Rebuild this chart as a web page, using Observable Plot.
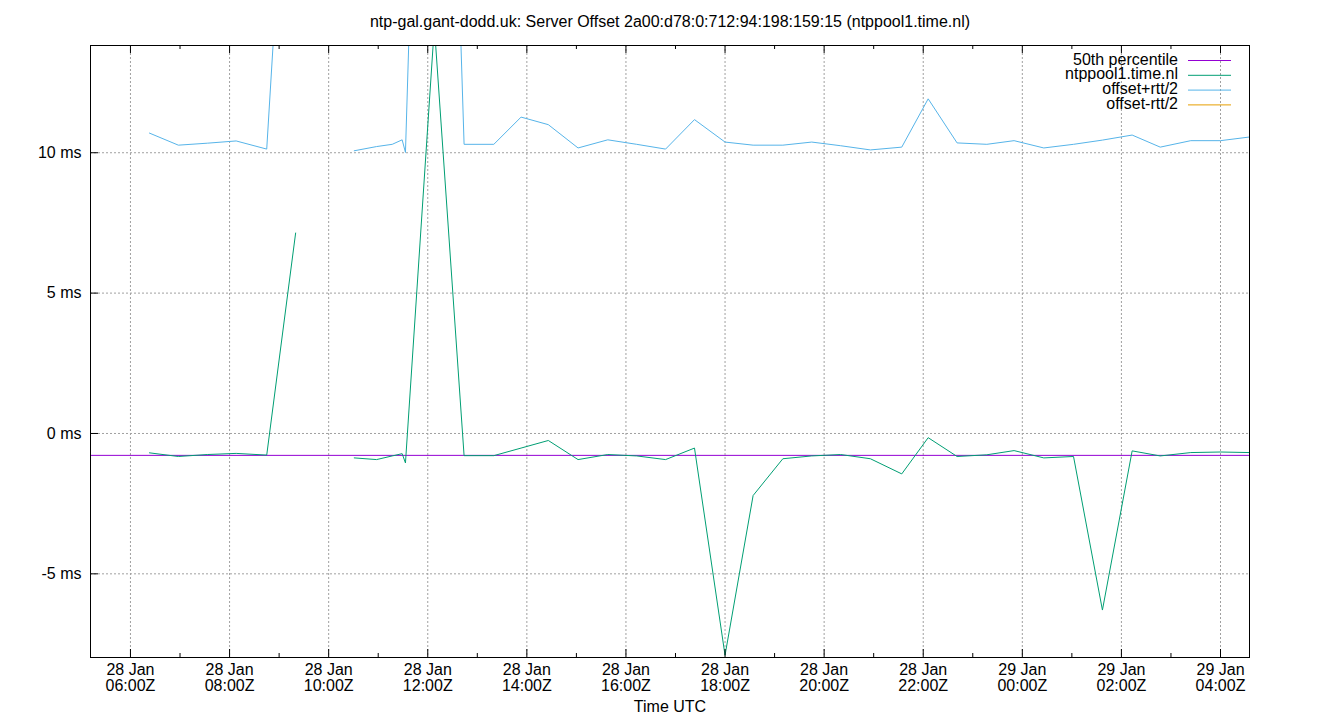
<!DOCTYPE html>
<html><head><meta charset="utf-8">
<script src="https://cdn.jsdelivr.net/npm/d3@7"></script>
<script src="https://cdn.jsdelivr.net/npm/@observablehq/plot@0.6"></script>
<style>html,body{margin:0;padding:0;background:#fff;} svg{display:block;}</style>
</head><body><div id="chart"></div>
<script>
const title = "ntp-gal.gant-dodd.uk: Server Offset 2a00:d78:0:712:94:198:159:15 (ntppool1.time.nl)";
const xLabel = "Time UTC";
// sample times (day T hh:mm, UTC, January); null values break the line
const times = [
  "28T06:23","28T06:58","28T07:33","28T08:08","28T08:45","28T09:20",
  "28T09:55",
  "28T10:31","28T10:58","28T11:17","28T11:29","28T11:33","28T12:08","28T12:44",
  "28T13:20","28T13:53","28T14:26","28T15:02","28T15:38","28T16:13","28T16:48","28T17:23","28T18:00",
  "28T18:34","28T19:10","28T19:45","28T20:20","28T20:56","28T21:34","28T22:06","28T22:41","28T23:17",
  "28T23:50","29T00:26","29T01:02","29T01:37","29T02:13","29T02:47","29T03:24","29T04:00","29T04:35"
];
const offsetMs = [
  -0.69,-0.82,-0.75,-0.71,-0.77,7.14,
  null,
  -0.87,-0.93,-0.80,-0.72,-1.05,14.5,-0.79,
  -0.79,-0.52,-0.25,-0.93,-0.75,-0.80,-0.93,-0.52,-7.9,
  -2.21,-0.90,-0.80,-0.75,-0.90,-1.44,-0.15,-0.82,-0.76,
  -0.61,-0.87,-0.82,-6.29,-0.62,-0.80,-0.68,-0.66,-0.68
];
const upperMs = [
  10.70,10.27,10.34,10.42,10.13,27.0,
  null,
  10.07,10.22,10.30,10.46,10.01,44.0,10.30,
  10.30,11.27,11.00,10.17,10.46,10.30,10.13,11.18,10.38,
  10.27,10.27,10.38,10.25,10.10,10.20,11.92,10.35,10.30,
  10.43,10.17,10.30,10.45,10.63,10.20,10.43,10.43,10.56
];
const percentileMs = -0.78;
const seriesNames = ["50th percentile","ntppool1.time.nl","offset+rtt/2","offset-rtt/2"];
const seriesColors = ["#9400d3","#009e73","#56b4e9","#e69f00"];
const yTicks = [-5, 0, 5, 10];
const xStart = "2025-01-28T05:11:36Z", xEnd = "2025-01-29T04:35:06Z";
const yDomain = [-7.98, 13.82];

const data = times.map((t, i) => ({t: new Date(`2025-01-${t}:00Z`), off: offsetMs[i], up: upperMs[i]}));
const majorTicks = d3.utcHour.every(2).range(new Date("2025-01-28T06:00Z"), new Date("2025-01-29T04:30Z"));
const minorTicks = d3.utcHour.range(new Date(xStart), new Date(xEnd)).filter(d => d.getUTCHours() % 2 === 1);

const W = 1340, H = 720, mL = 90, mR = 91, mT = 45, mB = 63;
const pw = W - mL - mR, ph = H - mT - mB;
const pad2 = n => String(n).padStart(2, "0");

function legendMark(index, scales, values, dims) {
  const g = d3.create("svg:g");
  const xr = dims.width - dims.marginRight;
  seriesNames.forEach((name, i) => {
    const y = dims.marginTop + 15.5 + i * 14.8;
    g.append("text").attr("x", xr - 71).attr("y", y - 1).attr("dy", "0.32em")
      .attr("text-anchor", "end").attr("fill", "black").text(name);
    g.append("line").attr("x1", xr - 61).attr("x2", xr - 18).attr("y1", y).attr("y2", y)
      .attr("stroke", seriesColors[i]).attr("stroke-width", 1);
  });
  return g.node();
}

const chart = Plot.plot({
  width: W, height: H,
  marginLeft: mL, marginRight: mR, marginTop: mT, marginBottom: mB,
  style: {fontFamily: "'Liberation Sans', Arial, sans-serif", fontSize: "16px", color: "black", background: "white"},
  x: {type: "utc", domain: [new Date(xStart), new Date(xEnd)]},
  y: {domain: yDomain},
  marks: [
    Plot.gridX(majorTicks, {stroke: "#a0a0a0", strokeOpacity: 1, strokeDasharray: "2,2"}),
    Plot.gridY(yTicks, {stroke: "#a0a0a0", strokeOpacity: 1, strokeDasharray: "2,2"}),
    Plot.ruleY([percentileMs], {stroke: seriesColors[0], strokeWidth: 1}),
    Plot.line(data, {x: "t", y: "up", stroke: seriesColors[2], strokeWidth: 1, clip: true}),
    Plot.line(data, {x: "t", y: "off", stroke: seriesColors[1], strokeWidth: 1, clip: true}),
    Plot.frame({stroke: "black", strokeWidth: 1}),
    Plot.ruleX(majorTicks, {x: d => d, insetTop: ph - 8, stroke: "black"}),
    Plot.ruleX(majorTicks, {x: d => d, insetBottom: ph - 8, stroke: "black"}),
    Plot.ruleX(minorTicks, {x: d => d, insetTop: ph - 4, stroke: "black"}),
    Plot.ruleX(minorTicks, {x: d => d, insetBottom: ph - 4, stroke: "black"}),
    Plot.ruleY(yTicks, {y: d => d, insetRight: pw - 8, stroke: "black"}),
    Plot.axisX(majorTicks, {tickSize: 0, tickPadding: 6, label: null,
      tickFormat: d => `${d.getUTCDate()} Jan\n${pad2(d.getUTCHours())}:00Z`}),
    Plot.axisY(yTicks, {tickSize: 0, tickPadding: 9, label: null, tickFormat: d => `${d} ms`}),
    Plot.text([title], {text: d => d, frameAnchor: "top", dy: -24, lineAnchor: "middle"}),
    Plot.text([xLabel], {text: d => d, frameAnchor: "bottom", dy: 49, lineAnchor: "middle"}),
    legendMark
  ]
});
document.getElementById("chart").appendChild(chart);
</script>
</body></html>
